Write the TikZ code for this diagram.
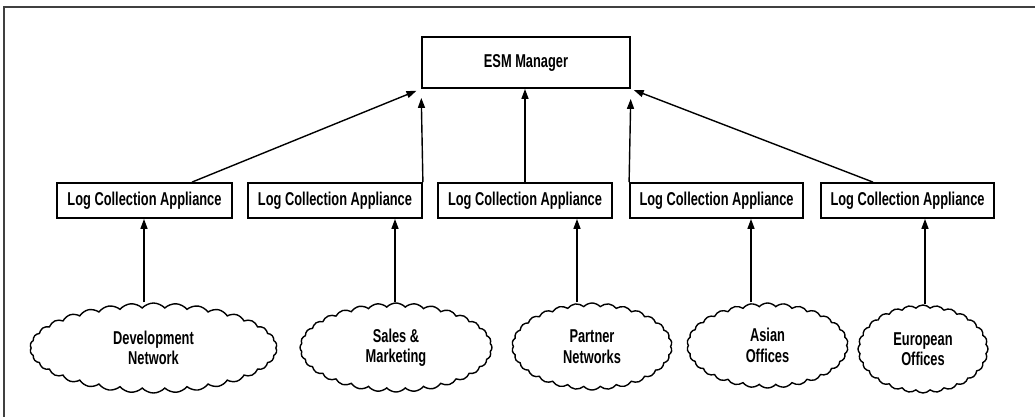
\documentclass[tikz,border=0pt]{standalone}
\usepackage{fontspec}
\setmainfont{Liberation Sans}[FakeStretch=0.69,UprightFont=*-Bold]
\usetikzlibrary{arrows.meta,shapes.symbols}
\begin{document}
\begin{tikzpicture}[x=1pt,y=-1pt,
  font=\fontsize{18.6}{20.5}\selectfont,
  box/.style={draw,line width=1.8pt,inner sep=0pt,minimum height=35pt,minimum width=174pt},
  net/.style={cloud,draw,line width=1.4pt,cloud puffs=30,cloud puff arc=95,
    cloud ignores aspect,align=center,inner sep=0pt},
  feed/.style={-{Triangle[length=10pt,width=7pt]},line width=1.4pt},
]
\useasboundingbox (0,0) rectangle (1035,416);
% frame
\draw[line width=1.6pt,black!75] (4,420) -- (4,7) -- (1040,7);

% manager
\node[box,minimum width=208pt,minimum height=51pt] (esm) at (526,62.5) {ESM Manager};

% collectors
\node[box,minimum width=175pt] (b1) at (144.5,200.5) {Log Collection Appliance};
\node[box] (b2) at (335,200.5) {Log Collection Appliance};
\node[box] (b3) at (525,200.5) {Log Collection Appliance};
\node[box,minimum width=173pt] (b4) at (716.5,200.5) {Log Collection Appliance};
\node[box,minimum width=173pt] (b5) at (907.5,200.5) {Log Collection Appliance};

% networks
\node[net,minimum width=247pt,minimum height=90pt,cloud puffs=34] (c1) at (153.5,348) {Development\\Network};
\node[net,minimum width=192pt,minimum height=89pt,cloud puffs=32] (c2) at (396,347.5) {Sales \&\\Marketing};
\node[net,minimum width=160pt,minimum height=87pt] (c3) at (592,346.5) {Partner\\Networks};
\node[net,minimum width=161pt,minimum height=85pt] (c4) at (767.5,345.5) {Asian\\Offices};
\node[net,minimum width=130pt,minimum height=88pt,cloud puffs=28] (c5) at (923,349) {European\\Offices};

% feed columns
\coordinate (x1) at (144,0);
\coordinate (x2) at (395,0);
\coordinate (x3) at (577,0);
\coordinate (x4) at (751,0);
\coordinate (x5) at (925,0);
\coordinate (u1) at (192,0);
\coordinate (u5) at (873,0);

% collectors to manager
\draw[feed,shorten >=5pt] (u1 |- b1.north) -- (esm.south west);
\draw[feed,shorten >=9pt] (b2.north east) -- (esm.south west);
\draw[feed] (b3.north) -- (b3.north |- esm.south);
\draw[feed,shorten >=10pt] (b4.north west) -- (esm.south east);
\draw[feed,shorten >=3pt] (u5 |- b5.north) -- (esm.south east);

% networks to collectors
\draw[feed] (x1 |- c1.north) -- (x1 |- b1.south);
\draw[feed] (x2 |- c2.north) -- (x2 |- b2.south);
\draw[feed] (x3 |- c3.north) -- (x3 |- b3.south);
\draw[feed] (x4 |- c4.north) -- (x4 |- b4.south);
\draw[feed] (x5 |- c5.north) -- (x5 |- b5.south);
\end{tikzpicture}
\end{document}
